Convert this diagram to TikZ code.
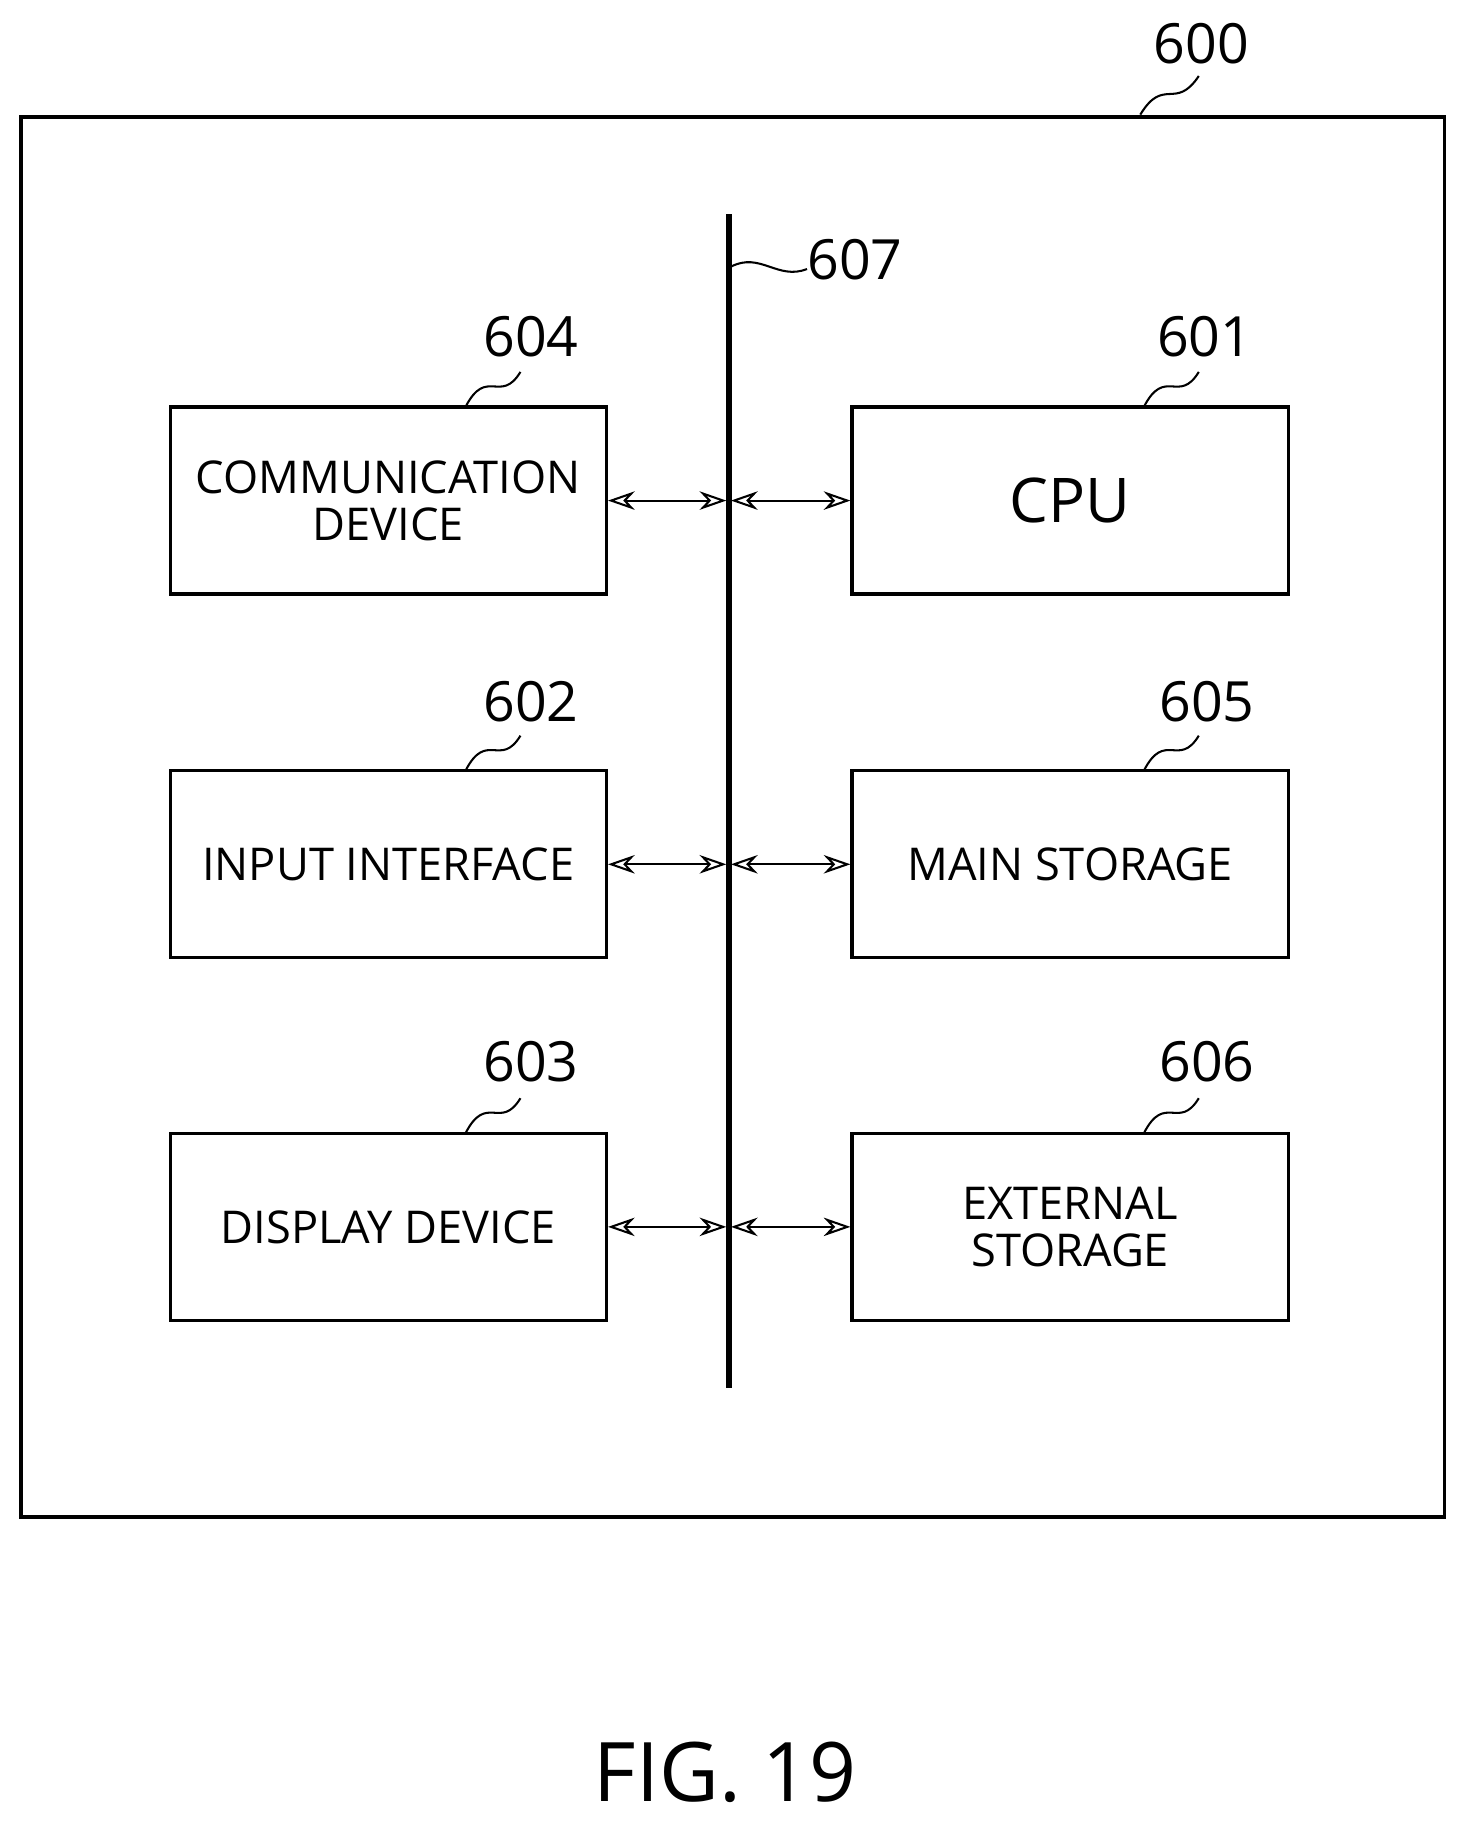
\documentclass[tikz,border=0pt]{standalone}
\usepackage{fontspec}
\setmainfont{Open Sans}
\usetikzlibrary{arrows.meta}
\tikzset{
  unit/.style={draw, line width=1.6pt, minimum width=7.46cm, minimum height=3.2cm, align=center, font=\fontsize{22}{23}\selectfont},
  refnum/.style={font=\fontsize{27}{30}\selectfont},
  squig/.style={line width=1pt},
  bus/.style={{Stealth[length=13pt,width=9pt,open]}-{Stealth[length=13pt,width=9pt,open]}, line width=1pt}
}
\begin{document}
\begin{tikzpicture}[x=0.02cm, y=-0.02cm]
\useasboundingbox (0,0) rectangle (1250,1563);

\draw [line width=1.8pt] (18,100) rectangle (1235,1297);
\node[refnum] (n600) at (1027,37) {600};
\draw [squig] (975,98) .. controls (995,65) and (1005,95) .. (1025,65);

% bus
\coordinate (bt) at (623,183);
\coordinate (bb) at (623,1187);
\draw [line width=3pt] (bt) -- (bb);
\node[refnum] (n607) at (731,222) {607};
\draw [squig] (625,228) .. controls (650,215) and (665,240) .. (690,230);

% left column
\node[unit] (comm) at (332,428) {COMMUNICATION\\DEVICE};
\node[unit] (input) at (332,739) {INPUT INTERFACE};
\node[unit] (disp) at (332,1049) {DISPLAY DEVICE};

% right column
\node[unit, font=\fontsize{30}{32}\selectfont] (cpu) at (915,428) {CPU};
\node[unit] (mains) at (915,739) {MAIN STORAGE};
\node[unit] (exts) at (915,1049) {EXTERNAL\\STORAGE};

% reference numbers
\node[refnum] (n604) at (454,288) {604};
\node[refnum] (n601) at (1030,288) {601};
\node[refnum] (n602) at (454,600) {602};
\node[refnum] (n605) at (1032,600) {605};
\node[refnum] (n603) at (454,908) {603};
\node[refnum] (n606) at (1032,908) {606};
\foreach \x/\y in {398/348, 978/348, 398/659, 978/659, 398/969, 978/969}
  \draw [squig] (\x,\y) .. controls (\x+18,\y-35) and (\x+30,\y-2) .. (\x+47,\y-30);

% connections to bus
\foreach \b/\y in {comm/428, input/739, disp/1049} {
  \coordinate (l\b) at (621,\y);
  \draw [bus] (\b.east) -- (l\b);
}
\foreach \b/\y in {cpu/428, mains/739, exts/1049} {
  \coordinate (r\b) at (625,\y);
  \draw [bus] (r\b) -- (\b.west);
}

\node[font=\fontsize{40}{42}\selectfont] (fig) at (620,1515) {FIG. 19};
\end{tikzpicture}
\end{document}
